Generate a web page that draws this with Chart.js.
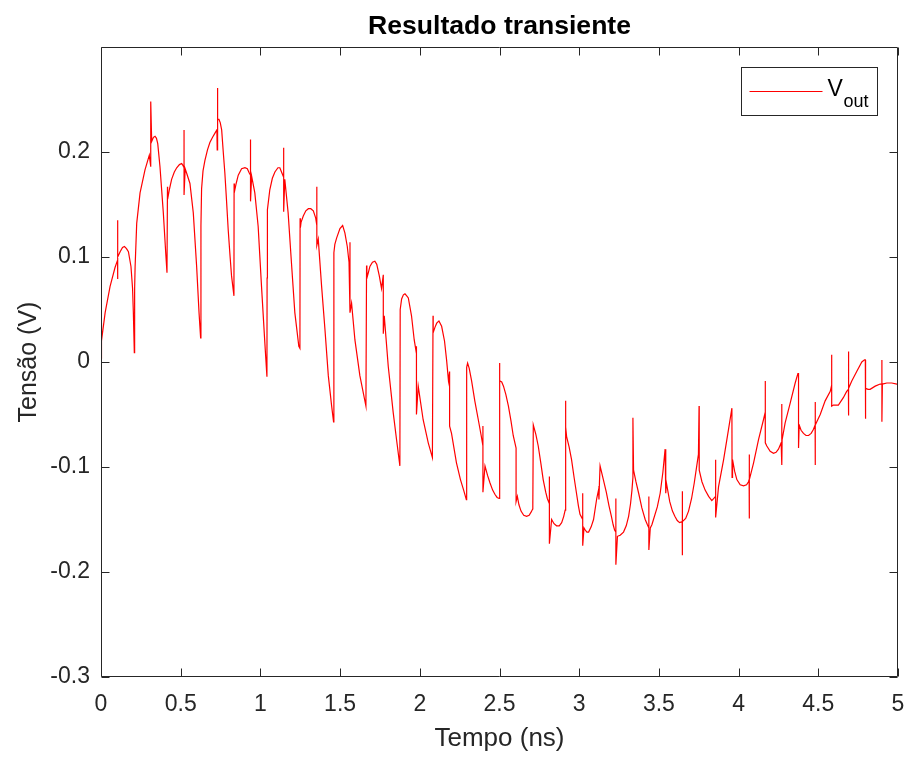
<!DOCTYPE html>
<html lang="pt">
<head>
  <meta charset="UTF-8">
  <title>Resultado transiente</title>
  <script src="https://cdn.jsdelivr.net/npm/chart.js"></script>
  <style>
    html, body { margin: 0; padding: 0; background: #fff; }
    #grafico { display: block; }
  </style>
</head>
<body>
  <canvas id="grafico" width="907" height="758"></canvas>

<script>
  // textos e ticks
  const tituloGrafico = 'Resultado transiente'
  const rotuloX = 'Tempo (ns)'
  const rotuloY = 'Tensão (V)'
  const ticksX = [0, 0.5, 1, 1.5, 2, 2.5, 3, 3.5, 4, 4.5, 5]
  const ticksY = [-0.3, -0.2, -0.1, 0, 0.1, 0.2]

  // Vout: [tempo (ns), tensao (V)]
  const trecho1 = [
    [0.000, 0.037], [0.000, 0.003], [0.006, 0.020], [0.026, 0.047], [0.057, 0.072], [0.088, 0.090],
    [0.104, 0.097], [0.104, 0.135], [0.104, 0.079], [0.106, 0.100], [0.120, 0.105], [0.135, 0.109],
    [0.147, 0.110], [0.160, 0.108], [0.172, 0.105], [0.188, 0.091], [0.198, 0.070], [0.203, 0.047],
    [0.209, 0.009], [0.211, 0.070], [0.214, 0.091], [0.224, 0.132], [0.245, 0.161], [0.276, 0.183],
    [0.303, 0.197], [0.312, 0.186], [0.312, 0.248], [0.318, 0.210], [0.329, 0.214], [0.339, 0.215],
    [0.348, 0.213], [0.356, 0.208], [0.370, 0.186], [0.391, 0.142], [0.406, 0.104], [0.414, 0.085],
    [0.417, 0.167], [0.418, 0.155], [0.430, 0.165], [0.443, 0.174], [0.460, 0.181], [0.475, 0.185],
    [0.492, 0.188], [0.506, 0.189], [0.515, 0.187], [0.521, 0.185], [0.521, 0.221], [0.521, 0.159],
    [0.528, 0.184], [0.537, 0.180], [0.558, 0.170], [0.579, 0.142], [0.600, 0.091], [0.615, 0.047],
    [0.625, 0.023], [0.627, 0.130], [0.631, 0.165], [0.640, 0.182], [0.652, 0.192], [0.668, 0.202],
    [0.683, 0.209], [0.700, 0.214], [0.715, 0.218], [0.727, 0.221], [0.729, 0.202], [0.729, 0.261],
    [0.734, 0.231], [0.740, 0.231], [0.748, 0.228], [0.757, 0.221], [0.767, 0.200], [0.777, 0.180],
    [0.787, 0.155], [0.798, 0.126], [0.810, 0.100], [0.819, 0.082], [0.834, 0.063], [0.835, 0.170],
    [0.837, 0.162], [0.848, 0.170], [0.861, 0.178], [0.882, 0.184], [0.903, 0.185], [0.918, 0.184],
    [0.930, 0.180], [0.938, 0.178], [0.938, 0.212], [0.938, 0.153], [0.945, 0.177], [0.965, 0.161],
    [0.986, 0.129], [1.007, 0.072], [1.028, 0.018], [1.041, -0.014]
  ]
  const trecho2 = [
    [1.042, 0.080], [1.043, 0.120], [1.045, 0.145], [1.059, 0.164], [1.075, 0.175], [1.091, 0.181],
    [1.110, 0.185], [1.122, 0.185], [1.135, 0.180], [1.146, 0.176], [1.146, 0.204], [1.146, 0.143],
    [1.153, 0.174], [1.174, 0.142], [1.195, 0.094], [1.216, 0.047], [1.241, 0.015], [1.248, 0.013],
    [1.249, 0.137], [1.251, 0.128], [1.255, 0.133], [1.269, 0.139], [1.285, 0.144], [1.301, 0.146],
    [1.316, 0.146], [1.332, 0.144], [1.347, 0.137], [1.354, 0.130], [1.354, 0.167], [1.354, 0.111],
    [1.363, 0.117], [1.384, 0.072], [1.405, 0.031], [1.426, -0.013], [1.447, -0.042], [1.459, -0.057],
    [1.461, 0.104], [1.467, 0.112], [1.478, 0.118], [1.499, 0.127], [1.516, 0.130], [1.530, 0.123],
    [1.545, 0.110], [1.556, 0.095], [1.562, 0.114], [1.562, 0.047], [1.572, 0.056], [1.593, 0.021],
    [1.624, -0.013], [1.662, -0.042], [1.666, 0.092], [1.668, 0.080], [1.677, 0.085], [1.687, 0.091],
    [1.703, 0.095], [1.718, 0.096], [1.730, 0.093], [1.746, 0.082], [1.760, 0.070], [1.771, 0.083],
    [1.771, 0.027], [1.777, 0.044], [1.802, -0.004], [1.833, -0.048], [1.855, -0.075], [1.875, -0.099],
    [1.877, 0.050], [1.886, 0.060], [1.897, 0.064], [1.907, 0.065], [1.918, 0.063], [1.928, 0.061],
    [1.948, 0.044], [1.965, 0.021], [1.979, 0.008], [1.979, 0.015], [1.979, -0.050], [1.990, -0.023],
    [2.021, -0.055], [2.053, -0.077], [2.079, -0.091]
  ]
  const trecho3 = [
    [2.083, 0.044], [2.084, 0.028], [2.095, 0.033], [2.106, 0.037], [2.120, 0.039], [2.137, 0.034],
    [2.155, 0.020], [2.168, 0.002], [2.180, -0.018], [2.187, -0.009], [2.187, -0.061], [2.199, -0.068],
    [2.230, -0.096], [2.255, -0.112], [2.275, -0.122], [2.292, -0.131], [2.294, -0.005], [2.300, -0.001],
    [2.310, -0.006], [2.325, -0.018], [2.345, -0.037], [2.367, -0.055], [2.385, -0.070], [2.396, -0.080],
    [2.396, -0.061], [2.396, -0.124], [2.409, -0.099], [2.425, -0.108], [2.440, -0.115], [2.457, -0.122],
    [2.471, -0.126], [2.485, -0.129], [2.498, -0.130], [2.500, -0.001], [2.502, -0.018], [2.514, -0.019],
    [2.525, -0.023], [2.540, -0.031], [2.556, -0.042], [2.572, -0.056], [2.586, -0.070], [2.604, -0.082],
    [2.604, -0.133], [2.612, -0.128], [2.622, -0.136], [2.635, -0.142], [2.652, -0.146], [2.670, -0.147],
    [2.686, -0.146], [2.698, -0.143], [2.708, -0.140], [2.708, -0.132], [2.710, -0.138], [2.712, -0.060],
    [2.728, -0.069], [2.743, -0.080], [2.760, -0.097], [2.774, -0.112], [2.790, -0.124], [2.800, -0.130],
    [2.813, -0.135], [2.813, -0.109], [2.813, -0.173], [2.827, -0.150], [2.842, -0.154], [2.858, -0.156],
    [2.875, -0.156], [2.890, -0.153], [2.903, -0.147], [2.912, -0.141], [2.914, -0.037], [2.916, -0.062],
    [2.921, -0.071], [2.937, -0.081], [2.952, -0.093], [2.968, -0.110], [2.983, -0.125], [2.995, -0.137],
    [3.005, -0.145], [3.022, -0.150], [3.022, -0.125], [3.022, -0.175]
  ]
  const trecho4 = [
    [3.030, -0.158], [3.038, -0.160], [3.048, -0.162], [3.059, -0.162], [3.075, -0.157], [3.090, -0.150],
    [3.110, -0.130], [3.121, -0.122], [3.124, -0.118], [3.124, -0.131], [3.127, -0.115], [3.131, -0.099],
    [3.150, -0.111], [3.170, -0.124], [3.187, -0.137], [3.202, -0.147], [3.213, -0.155], [3.222, -0.160],
    [3.230, -0.162], [3.230, -0.130], [3.230, -0.193], [3.240, -0.166], [3.257, -0.165], [3.278, -0.162],
    [3.295, -0.156], [3.310, -0.147], [3.322, -0.135], [3.331, -0.122], [3.337, -0.110], [3.337, -0.053],
    [3.341, -0.103], [3.356, -0.114], [3.373, -0.125], [3.393, -0.139], [3.414, -0.150], [3.428, -0.155],
    [3.437, -0.158], [3.437, -0.128], [3.437, -0.179], [3.446, -0.158], [3.456, -0.155], [3.466, -0.150],
    [3.490, -0.138], [3.508, -0.125], [3.525, -0.105], [3.539, -0.083], [3.543, -0.108], [3.543, -0.125],
    [3.547, -0.115], [3.568, -0.133], [3.585, -0.142], [3.600, -0.147], [3.615, -0.151], [3.630, -0.153],
    [3.646, -0.152], [3.646, -0.123], [3.646, -0.184], [3.650, -0.152], [3.668, -0.149], [3.686, -0.142],
    [3.705, -0.130], [3.722, -0.115], [3.748, -0.088], [3.752, -0.042], [3.753, -0.103], [3.770, -0.114],
    [3.790, -0.122], [3.812, -0.128], [3.832, -0.132], [3.856, -0.128], [3.856, -0.093], [3.856, -0.148],
    [3.874, -0.119], [3.906, -0.093], [3.937, -0.064], [3.958, -0.044], [3.959, -0.110], [3.962, -0.093],
    [3.975, -0.104], [3.989, -0.112], [4.010, -0.117], [4.031, -0.118], [4.050, -0.117], [4.062, -0.114],
    [4.066, -0.112], [4.066, -0.088], [4.066, -0.149]
  ]
  const trecho5 = [
    [4.070, -0.112], [4.094, -0.096], [4.125, -0.074], [4.156, -0.055], [4.167, -0.048], [4.167, -0.018],
    [4.168, -0.077], [4.177, -0.080], [4.198, -0.085], [4.219, -0.087], [4.235, -0.086], [4.250, -0.083],
    [4.267, -0.077], [4.271, -0.075], [4.271, -0.040], [4.271, -0.098], [4.273, -0.074], [4.292, -0.058],
    [4.324, -0.039], [4.355, -0.020], [4.372, -0.011], [4.376, -0.011], [4.376, -0.082], [4.380, -0.060],
    [4.392, -0.065], [4.407, -0.068], [4.423, -0.070], [4.439, -0.070], [4.455, -0.068], [4.470, -0.064],
    [4.480, -0.060], [4.480, -0.038], [4.480, -0.098], [4.483, -0.060], [4.512, -0.050], [4.543, -0.037],
    [4.575, -0.028], [4.584, -0.022], [4.584, 0.007], [4.584, -0.042], [4.595, -0.041], [4.626, -0.041],
    [4.657, -0.034], [4.678, -0.028], [4.689, -0.026], [4.689, 0.010], [4.689, -0.051], [4.692, -0.025],
    [4.710, -0.018], [4.741, -0.009], [4.773, 0.000], [4.790, 0.002], [4.795, 0.002], [4.795, -0.054],
    [4.798, -0.025], [4.812, -0.026], [4.825, -0.026], [4.857, -0.023], [4.888, -0.021], [4.899, -0.021],
    [4.899, 0.002], [4.899, -0.057], [4.902, -0.021], [4.930, -0.020], [4.961, -0.020], [4.993, -0.021],
    [5.000, -0.021], [5.000, -0.009]
  ]

  const pontosVout = [...trecho1, ...trecho2, ...trecho3, ...trecho4, ...trecho5]
    .map(p => ({ x: p[0], y: p[1] }))

  const corEixo = '#262626'
  const fonte = '"Liberation Sans", Arial, Helvetica, sans-serif'

  // moldura estilo matlab: caixa, ticks para dentro, titulo e legenda
  const moldura = {
    id: 'moldura',
    afterDatasetsDraw(chart) {
      const { ctx, chartArea: a, scales } = chart
      const L = Math.round(a.left) + 0.5
      const R = Math.round(a.right) - 0.5
      const T = Math.round(a.top) + 0.5
      const B = Math.round(a.bottom) - 0.5
      const tam = 8
      ctx.save()
      ctx.strokeStyle = corEixo
      ctx.lineWidth = 1
      ctx.beginPath()
      ctx.rect(L, T, R - L, B - T)
      scales.x.ticks.forEach(t => {
        const px = Math.round(scales.x.getPixelForValue(t.value)) + 0.5
        ctx.moveTo(px, B); ctx.lineTo(px, B - tam)
        ctx.moveTo(px, T); ctx.lineTo(px, T + tam)
      })
      scales.y.ticks.forEach(t => {
        const py = Math.round(scales.y.getPixelForValue(t.value)) + 0.5
        ctx.moveTo(L, py); ctx.lineTo(L + tam, py)
        ctx.moveTo(R, py); ctx.lineTo(R - tam, py)
      })
      ctx.stroke()

      // titulo centrado sobre os eixos
      ctx.fillStyle = '#000'
      ctx.font = 'bold 26.6px ' + fonte
      ctx.textAlign = 'center'
      ctx.textBaseline = 'middle'
      ctx.fillText(tituloGrafico, (a.left + a.right) / 2, 27)

      // legenda com V subscrito "out"
      const lx = Math.round(a.right) - 156.5, ly = a.top + 20.5, lw = 136, lh = 48
      ctx.fillStyle = '#fff'
      ctx.fillRect(lx, ly, lw, lh)
      ctx.strokeRect(lx, ly, lw, lh)
      ctx.strokeStyle = '#ff0000'
      ctx.beginPath()
      ctx.moveTo(lx + 8, ly + 24); ctx.lineTo(lx + 81, ly + 24)
      ctx.stroke()
      ctx.fillStyle = '#000'
      ctx.textAlign = 'left'
      ctx.textBaseline = 'alphabetic'
      ctx.font = '23px ' + fonte
      ctx.fillText('V', lx + 86, ly + 28)
      ctx.font = '18px ' + fonte
      ctx.fillText('out', lx + 102, ly + 39)
      ctx.restore()
    }
  }

  new Chart(document.getElementById('grafico'), {
    type: 'scatter',
    data: {
      datasets: [{
        label: 'Vout',
        data: pontosVout,
        showLine: true,
        borderColor: '#ff0000',
        borderWidth: 1.2,
        pointRadius: 0,
        tension: 0
      }]
    },
    options: {
      responsive: false,
      animation: false,
      layout: { padding: { top: 47, right: 9, left: 0, bottom: 0 } },
      plugins: {
        legend: { display: false },
        title: { display: false },
        tooltip: { enabled: false }
      },
      scales: {
        x: {
          type: 'linear',
          min: 0,
          max: 5,
          afterBuildTicks: s => { s.ticks = ticksX.map(v => ({ value: v })) },
          afterFit: s => { s.height = 81; s.paddingLeft = 0; s.paddingRight = 0 },
          grid: { display: false, drawTicks: false },
          border: { display: false },
          ticks: {
            autoSkip: false,
            maxRotation: 0,
            padding: 14,
            color: corEixo,
            font: { family: fonte, size: 23 },
            callback: v => String(v)
          },
          title: {
            display: true,
            text: rotuloX,
            color: corEixo,
            font: { family: fonte, size: 26 },
            padding: { top: 0, bottom: 4 }
          }
        },
        y: {
          min: -0.3,
          max: 0.3,
          afterBuildTicks: s => { s.ticks = ticksY.map(v => ({ value: v })) },
          afterFit: s => { s.width = 101; s.paddingTop = 0; s.paddingBottom = 0 },
          grid: { display: false, drawTicks: false },
          border: { display: false },
          ticks: {
            autoSkip: false,
            padding: 11,
            color: corEixo,
            font: { family: fonte, size: 23 },
            callback: v => String(v)
          },
          title: {
            display: true,
            text: rotuloY,
            color: corEixo,
            font: { family: fonte, size: 25 },
            padding: { top: 14, bottom: 0 }
          }
        }
      }
    },
    plugins: [moldura]
  })
</script>
</body>
</html>
